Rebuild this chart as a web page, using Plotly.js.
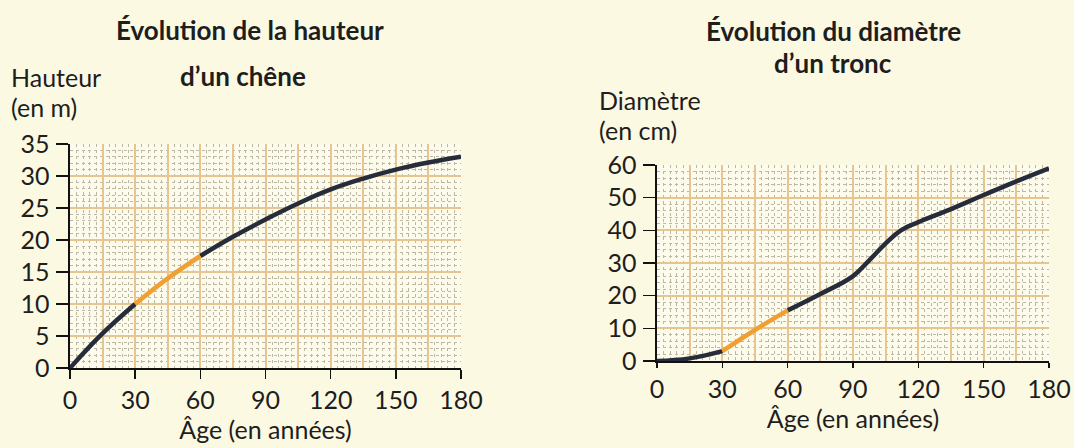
<!DOCTYPE html>
<html>
<head>
<meta charset="utf-8">
<script src="https://cdn.plot.ly/plotly-3.0.1.min.js"></script>
<style>html,body{margin:0;padding:0;background:#fcf9e3;}#chart{width:1074px;height:448px;}</style>
</head>
<body>
<div id="chart"></div>
<script>
// Left chart: height of an oak (m) vs age (years)
const ageHeight = [0, 15, 30, 45, 60, 75, 90, 105, 120, 135, 150, 165, 180];
const heightM   = [0, 5.4, 10, 14, 17.5, 20.5, 23.2, 25.7, 27.9, 29.6, 31, 32.1, 33];
// Right chart: trunk diameter (cm) vs age (years)
const ageDiam   = [0, 15, 30, 45, 60, 75, 90, 97, 105, 112, 120, 135, 150, 165, 180];
const diamCm    = [0, 0.8, 3, 9.5, 15.5, 20.5, 26, 30.5, 36, 40, 42.5, 46.5, 50.8, 55, 59];
// Highlighted age window (orange)
const highlightStart = 30, highlightEnd = 60;
const xTicks = [0, 30, 60, 90, 120, 150, 180];

const DARK = '#272c3a', ORANGE = '#f0a033';
const TAN = '#e7c593', MINOR = '#bcb8a4';
const FONT = 'Lato, "Open Sans", sans-serif';

function seg(xs, ys, lo, hi) {
  const ox = [], oy = [];
  xs.forEach((x, i) => { if (x >= lo && x <= hi) { ox.push(x); oy.push(ys[i]); } });
  return {x: ox, y: oy};
}
function curveTraces(xs, ys, xa, ya) {
  const parts = [
    [seg(xs, ys, -Infinity, highlightStart), DARK],
    [seg(xs, ys, highlightEnd, Infinity), DARK],
    [seg(xs, ys, highlightStart, highlightEnd), ORANGE]
  ];
  return parts.map(([p, c]) => ({
    x: p.x, y: p.y, xaxis: xa, yaxis: ya, type: 'scatter', mode: 'lines',
    line: {color: c, width: 4.5, shape: 'spline', smoothing: 1.2}, hoverinfo: 'skip', showlegend: false
  }));
}

const data = [
  ...curveTraces(ageHeight, heightM, 'x', 'y'),
  ...curveTraces(ageDiam, diamCm, 'x2', 'y2'),
  {x: [], y: [], xaxis: 'x3', yaxis: 'y', type: 'scatter', showlegend: false},
  {x: [], y: [], xaxis: 'x4', yaxis: 'y2', type: 'scatter', showlegend: false}
];

const tickFont = {family: FONT, size: 25, color: '#1e1e1e'};
// main x axis: labels, ticks, fine dotted graph-paper lines every 3 years
function labelX(domain, anchor, ticklen, standoff) {
  return {domain, anchor, range: [0, 180], tickvals: xTicks, ticks: 'outside', ticklen, tickwidth: 1.5,
    tickcolor: '#111', showline: true, linecolor: '#111', linewidth: 1.6, zeroline: false,
    showgrid: false,
    minor: {dtick: 3, showgrid: true, gridcolor: MINOR, griddash: 'dot', gridwidth: 1, ticks: ''},
    tickfont: tickFont, ticklabelstandoff: 0, fixedrange: true,
    title: {text: 'Âge (en années)', font: {family: FONT, size: 25, color: '#1e1e1e'}, standoff: standoff}};
}
// overlay x axis: stronger tan graph-paper lines every 15 years, drawn on top of the dotted ones
function tanX(overlay, anchor) {
  return {overlaying: overlay, anchor, range: [0, 180], dtick: 15, tick0: 0, showgrid: true,
    gridcolor: TAN, gridwidth: 2, showticklabels: false, ticks: '',
    zeroline: false, showline: false, fixedrange: true};
}
function yAxis(domain, anchor, max, dtick, minorDtick) {
  return {domain, anchor, range: [0, max], dtick, showgrid: true, gridcolor: TAN, gridwidth: 2,
    minor: {dtick: minorDtick, showgrid: true, gridcolor: MINOR, griddash: 'dot', gridwidth: 1},
    ticks: 'outside', ticklen: 12, tickwidth: 1.5, tickcolor: '#111', showline: true, linecolor: '#111', linewidth: 1.6,
    zeroline: false, tickfont: tickFont, ticklabelstandoff: 2, fixedrange: true};
}

const W = 1074, H = 448;
const L = {x0: 70, x1: 461, y0: 368, y1: 144};
const R = {x0: 657, x1: 1049, y0: 361, y1: 165};
const dx = (a, b) => [a / W, b / W];
const dy = (bot, top) => [(H - bot) / H, (H - top) / H];

const layout = {
  width: W, height: H, margin: {l: 0, r: 0, t: 0, b: 0},
  paper_bgcolor: '#fcf9e3', plot_bgcolor: '#fdfbec',
  font: {family: FONT, color: '#1e1e1e'},
  showlegend: false,
  xaxis: labelX(dx(L.x0, L.x1), 'y', 9, 2),
  yaxis: yAxis(dy(L.y0, L.y1), 'x', 35, 5, 1),
  xaxis3: tanX('x', 'y'),
  xaxis2: labelX(dx(R.x0, R.x1), 'y2', 5, 0),
  yaxis2: yAxis(dy(R.y0, R.y1), 'x2', 60, 10, 2),
  xaxis4: tanX('x2', 'y2'),
  annotations: [
    {text: '<b>Évolution de la hauteur</b>', x: 250, y: 30},
    {text: '<b>d’un chêne</b>', x: 243, y: 76},
    {text: 'Hauteur', x: 9, y: 77, xanchor: 'left'},
    {text: '(en m)', x: 9, y: 107, xanchor: 'left'},
    {text: '<b>Évolution du diamètre</b>', x: 833, y: 31},
    {text: '<b>d’un tronc</b>', x: 833, y: 63},
    {text: 'Diamètre', x: 597, y: 100, xanchor: 'left'},
    {text: '(en cm)', x: 597, y: 130, xanchor: 'left'}
  ].map(a => ({
    text: a.text, xref: 'paper', yref: 'paper', x: a.x / W, y: 1 - a.y / H,
    xanchor: a.xanchor || 'center', yanchor: 'middle', showarrow: false,
    font: {family: FONT, size: a.text.startsWith('<b>') ? 26 : 25, color: '#1e1e1e'}
  }))
};

Plotly.newPlot('chart', data, layout, {staticPlot: true, displayModeBar: false});
</script>
</body>
</html>
